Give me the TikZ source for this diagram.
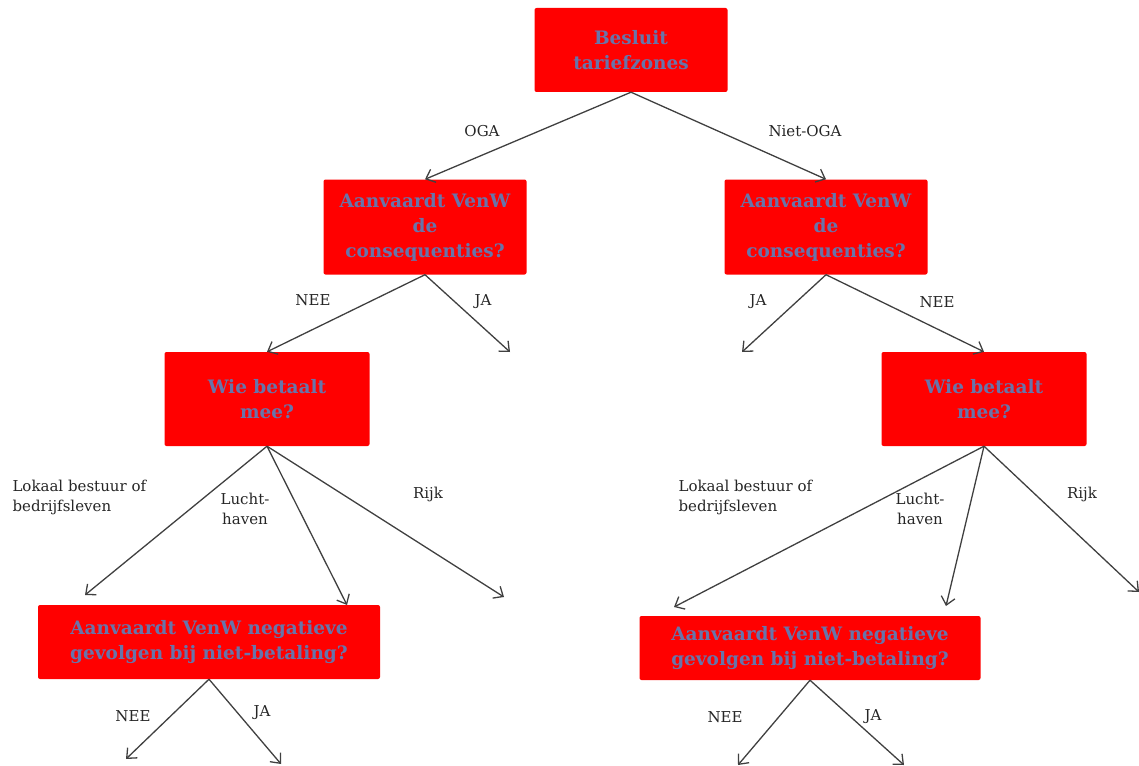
\documentclass[tikz,border=0pt]{standalone}
\usepackage{fontspec}
\setmainfont{DejaVu Serif}
\usetikzlibrary{arrows.meta}

\definecolor{vraagtekst}{RGB}{104,116,170}

\begin{document}
\begin{tikzpicture}[x=1pt,y=-1pt,
  vraag/.style={fill=red, rounded corners=2pt, inner sep=0pt, align=center,
    text=vraagtekst, font=\fontsize{18.5}{25}\selectfont\bfseries},
  pijl/.style={draw=black!75, line width=1.3pt,
    -{Straight Barb[length=8pt,width=14pt]}},
  lbl/.style={font=\fontsize{15}{20}\selectfont, text=black!85, align=center}]

\useasboundingbox (0,0) rectangle (1139,765);

% vragen
\node[vraag, minimum width=193pt, minimum height=84pt] (besluit) at (631,50) {Besluit\\tariefzones};
\node[vraag, minimum width=203pt, minimum height=95pt] (L1) at (425,227) {Aanvaardt VenW\\de\\consequenties?};
\node[vraag, minimum width=203pt, minimum height=95pt] (R1) at (826,227) {Aanvaardt VenW\\de\\consequenties?};
\node[vraag, minimum width=205pt, minimum height=94pt] (L2) at (267,399) {Wie betaalt\\mee?};
\node[vraag, minimum width=205pt, minimum height=94pt] (R2) at (984,399) {Wie betaalt\\mee?};
\node[vraag, minimum width=342pt, minimum height=74pt] (L3) at (209,642) {Aanvaardt VenW negatieve\\gevolgen bij niet-betaling?};
\node[vraag, minimum width=341pt, minimum height=64pt] (R3) at (810,648) {Aanvaardt VenW negatieve\\gevolgen bij niet-betaling?};

% losse eindpunten
\coordinate (L1ja) at (510,352);
\coordinate (R1ja) at (742,352);
\coordinate (L2lok) at (85,595);
\coordinate (L2lh) at (347,605);
\coordinate (L2rijk) at (504,597);
\coordinate (R2lok) at (674,607);
\coordinate (R2lh) at (946,606);
\coordinate (R2rijk) at (1139,592);
\coordinate (L3nee) at (126,759);
\coordinate (L3ja) at (281,764);
\coordinate (R3nee) at (738,765);
\coordinate (R3ja) at (904,765);

\draw[pijl] (besluit.south) -- (L1.north);
\draw[pijl] (besluit.south) -- (R1.north);
\draw[pijl] (L1.south) -- (L2.north);
\draw[pijl] (L1.south) -- (L1ja);
\draw[pijl] (R1.south) -- (R1ja);
\draw[pijl] (R1.south) -- (R2.north);
\draw[pijl] (L2.south) -- (L2lok);
\draw[pijl] (L2.south) -- (L2lh);
\draw[pijl] (L2.south) -- (L2rijk);
\draw[pijl] (R2.south) -- (R2lok);
\draw[pijl] (R2.south) -- (R2lh);
\draw[pijl] (R2.south) -- (R2rijk);
\draw[pijl] (L3.south) -- (L3nee);
\draw[pijl] (L3.south) -- (L3ja);
\draw[pijl] (R3.south) -- (R3nee);
\draw[pijl] (R3.south) -- (R3ja);

% labels
\node[lbl] (oga) at (482,131) {OGA};
\node[lbl] (nietoga) at (805,131) {Niet-OGA};
\node[lbl] (L1neetxt) at (313,300) {NEE};
\node[lbl] (L1jatxt) at (483,302) {JA};
\node[lbl] (R1jatxt) at (758,302) {JA};
\node[lbl] (R1neetxt) at (937,302) {NEE};
\node[lbl, align=left, anchor=west] (L2loktxt) at (9,497) {Lokaal bestuur of\\bedrijfsleven};
\node[lbl] (L2lhtxt) at (245,509) {Lucht-\\haven};
\node[lbl] (L2rijktxt) at (428,494) {Rijk};
\node[lbl, align=left, anchor=west] (R2loktxt) at (675,497) {Lokaal bestuur of\\bedrijfsleven};
\node[lbl] (R2lhtxt) at (920,509) {Lucht-\\haven};
\node[lbl] (R2rijktxt) at (1082,494) {Rijk};
\node[lbl] (L3neetxt) at (133,716) {NEE};
\node[lbl] (L3jatxt) at (262,713) {JA};
\node[lbl] (R3neetxt) at (725,717) {NEE};
\node[lbl] (R3jatxt) at (873,717) {JA};

\end{tikzpicture}
\end{document}
